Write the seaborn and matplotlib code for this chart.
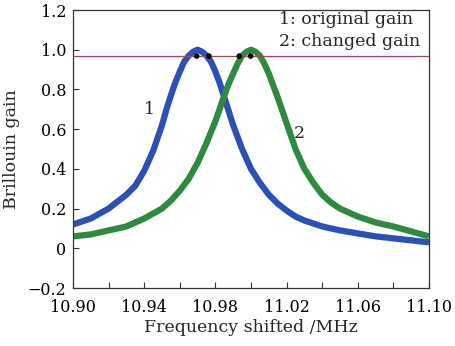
import matplotlib
matplotlib.use("Agg")
import matplotlib.pyplot as plt
import seaborn as sns
import pandas as pd

# ---- data ----
freq_blue = [10.900, 10.905, 10.910, 10.915, 10.920, 10.925, 10.930, 10.935, 10.940, 10.945,
             10.9475, 10.950, 10.9525, 10.955, 10.9575, 10.960, 10.9625, 10.965, 10.9675,
             10.970, 10.9725, 10.975, 10.9775, 10.980, 10.9825, 10.985, 10.9875, 10.990,
             10.9925, 10.995, 10.9975, 11.000, 11.005, 11.010, 11.015, 11.020, 11.025, 11.030,
             11.040, 11.050, 11.060, 11.070, 11.080, 11.090, 11.100]
gain_blue = [0.12, 0.135, 0.15, 0.175, 0.20, 0.235, 0.27, 0.315, 0.39, 0.49,
             0.555, 0.62, 0.70, 0.77, 0.835, 0.89, 0.94, 0.97, 0.99,
             1.00, 0.99, 0.97, 0.94, 0.89, 0.83, 0.76, 0.69, 0.62,
             0.56, 0.50, 0.45, 0.40, 0.33, 0.27, 0.225, 0.19, 0.16, 0.14,
             0.11, 0.09, 0.075, 0.06, 0.05, 0.04, 0.03]

freq_green = [10.900, 10.910, 10.920, 10.930, 10.940, 10.950, 10.955, 10.960, 10.965, 10.9675,
              10.970, 10.9725, 10.975, 10.9775, 10.980, 10.9825, 10.985, 10.9875, 10.990,
              10.9925, 10.995, 10.9975, 11.000, 11.0025, 11.005, 11.0075, 11.010, 11.0125,
              11.015, 11.0175, 11.020, 11.0225, 11.025, 11.0275, 11.030, 11.035, 11.040,
              11.045, 11.050, 11.060, 11.070, 11.080, 11.090, 11.100]
gain_green = [0.06, 0.07, 0.09, 0.11, 0.15, 0.20, 0.24, 0.29, 0.35, 0.39,
              0.43, 0.48, 0.53, 0.585, 0.64, 0.705, 0.77, 0.83, 0.88,
              0.93, 0.97, 0.99, 1.00, 0.99, 0.97, 0.93, 0.88, 0.82,
              0.76, 0.695, 0.63, 0.565, 0.50, 0.45, 0.40, 0.33, 0.27,
              0.23, 0.20, 0.16, 0.13, 0.11, 0.085, 0.06]

threshold = 0.968
dot_freq = [10.9695, 10.9764, 10.9934, 10.9998]

legend_lines = ["1: original gain", "2: changed gain"]
curve_labels = ["1", "2"]

x_ticks = [10.90, 10.92, 10.94, 10.96, 10.98, 11.00, 11.02, 11.04, 11.06, 11.08, 11.10]
x_ticklabels = ["10.90", "", "10.94", "", "10.98", "", "11.02", "", "11.06", "", "11.10"]
y_ticks = [-0.2, 0, 0.2, 0.4, 0.6, 0.8, 1.0, 1.2]
y_ticklabels = ["\u22120.2", "0", "0.2", "0.4", "0.6", "0.8", "1.0", "1.2"]

# ---- plotting ----
sns.set_style("ticks")
plt.rcParams["font.family"] = ["DejaVu Serif"]
plt.rcParams["font.size"] = 11.5

fig = plt.figure(figsize=(4.55, 3.46), dpi=100)
ax = fig.add_axes([0.1604, 0.1676, 0.7825, 0.8034])

df_b = pd.DataFrame({"f": freq_blue, "g": gain_blue})
df_g = pd.DataFrame({"f": freq_green, "g": gain_green})

sns.lineplot(data=df_b, x="f", y="g", ax=ax, color="#2b50b6", linewidth=4.5,
             solid_joinstyle="round", solid_capstyle="butt", sort=False)
sns.lineplot(data=df_g, x="f", y="g", ax=ax, color="#2f8a3f", linewidth=4.5,
             solid_joinstyle="round", solid_capstyle="butt", sort=False)

ax.axhline(threshold, color="#a0485a", linewidth=0.9, zorder=5)
sns.scatterplot(x=dot_freq, y=[threshold] * len(dot_freq), ax=ax, color="black",
                s=16, edgecolor="none", zorder=6)

ax.text(10.943, 0.70, curve_labels[0], ha="center", va="center", fontsize=12.5)
ax.text(11.027, 0.58, curve_labels[1], ha="center", va="center", fontsize=12.5)
ax.text(11.0157, 1.15, legend_lines[0], ha="left", va="center", fontsize=12.5)
ax.text(11.0157, 1.04, legend_lines[1], ha="left", va="center", fontsize=12.5)

ax.set_xlim(10.90, 11.10)
ax.set_ylim(-0.2, 1.2)
ax.set_xticks(x_ticks)
ax.set_xticklabels(x_ticklabels)
ax.set_yticks(y_ticks)
ax.set_yticklabels(y_ticklabels)
ax.tick_params(direction="in", length=4, width=0.8, colors="#333333", labelcolor="black",
               labelsize=11.5)
ax.tick_params(axis="x", pad=8)
ax.tick_params(axis="y", pad=5)
for s in ax.spines.values():
    s.set_visible(True)
    s.set_color("#333333")
    s.set_linewidth(0.9)

ax.set_xlabel("Frequency shifted /MHz", fontsize=12.5, labelpad=2)
ax.set_ylabel("Brillouin gain", fontsize=12.5, labelpad=5)

fig.savefig("out.png", dpi=100, facecolor="white")
